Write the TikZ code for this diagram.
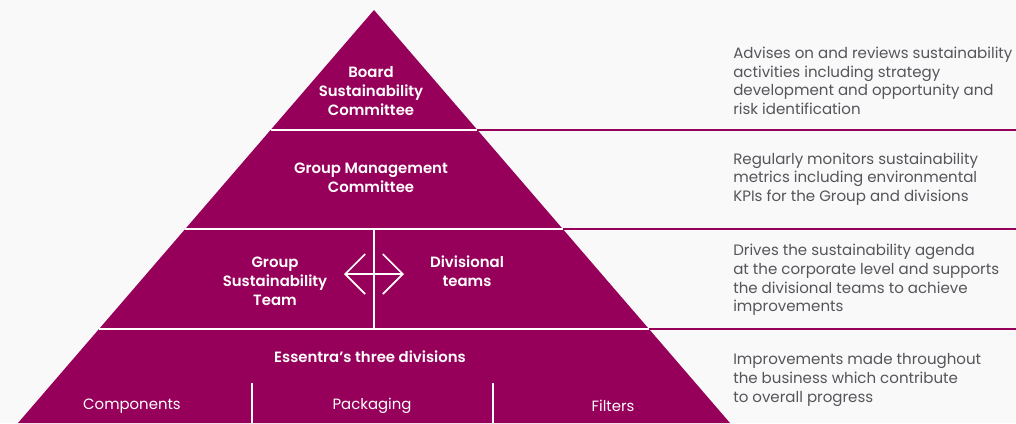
\documentclass[tikz,border=0pt]{standalone}
\usepackage{fontspec}
\IfFontExistsTF{Poppins SemiBold}
	{\setmainfont{Poppins}[BoldFont={Poppins SemiBold}]}
	{\setmainfont{Poppins}}
\usetikzlibrary{arrows.meta}
\definecolor{pyrmag}{RGB}{150,0,90}
\definecolor{desc}{RGB}{85,85,90}
\definecolor{paper}{RGB}{249,249,250}

\begin{document}
\begin{tikzpicture}[x=0.025cm,y=-0.025cm,
	tier/.style={text=white,font=\bfseries\fontsize{10.6}{13.4}\selectfont,align=center},
	unit/.style={text=white,font=\fontsize{10.6}{13.4}\selectfont},
	note/.style={text=desc,font=\fontsize{10.7}{13.2}\selectfont,align=left,anchor=west,inner sep=0pt},
	gap/.style={draw=white,line width=1.2pt},
	rule/.style={draw=pyrmag,line width=1.2pt}]
		\fill [paper] (0,0) rectangle (1016,423);
		\useasboundingbox (0,0) rectangle (1016,423);
		\fill [pyrmag] (374,10) -- (730,423) -- (18,423) -- cycle;
		\foreach \y in {130,229,329} {
			\draw [gap] ({374-0.862*(\y-10)},\y) -- ({374+0.862*(\y-10)},\y);
			\draw [rule] ({374+0.862*(\y-10)},\y) -- (1016,\y);
		}
		\draw [gap] (374,229) -- (374,329);
		\draw [gap] (252,383) -- (252,423);
		\draw [gap] (493,383) -- (493,423);
		% tiers of the pyramid
		\node [tier] (board) at (371,91) {Board\\Sustainability\\Committee};
		\node [tier] (gmc) at (371,178) {Group Management\\Committee};
		\node [tier] (gst) at (275,281) {Group\\Sustainability\\Team};
		\node [tier] (divteams) at (467,271) {Divisional\\teams};
		\node [tier] (three) at (370,357) {Essentra’s three divisions};
		\node [unit] (comp) at (132,406) {Components};
		\node [unit] (pack) at (372,406) {Packaging};
		\node [unit] (filt) at (613,406) {Filters};
		\coordinate (arrL) at (344,274);
		\coordinate (arrR) at (404,274);
		\draw [gap, {Straight Barb[length=0.5cm,width=1cm]}-{Straight Barb[length=0.5cm,width=1cm]}] (arrL) -- (arrR);
		% descriptions
		\node [note] (advise) at (733,81) {Advises on and reviews sustainability\\activities including strategy\\development and opportunity and\\risk identification};
		\node [note] (monitor) at (733,179) {Regularly monitors sustainability\\metrics including environmental\\KPIs for the Group and divisions};
		\node [note] (drive) at (733,280) {Drives the sustainability agenda\\at the corporate level and supports\\the divisional teams to achieve\\improvements};
		\node [note] (improve) at (733,380) {Improvements made throughout\\the business which contribute\\to overall progress};
\end{tikzpicture}
\end{document}
